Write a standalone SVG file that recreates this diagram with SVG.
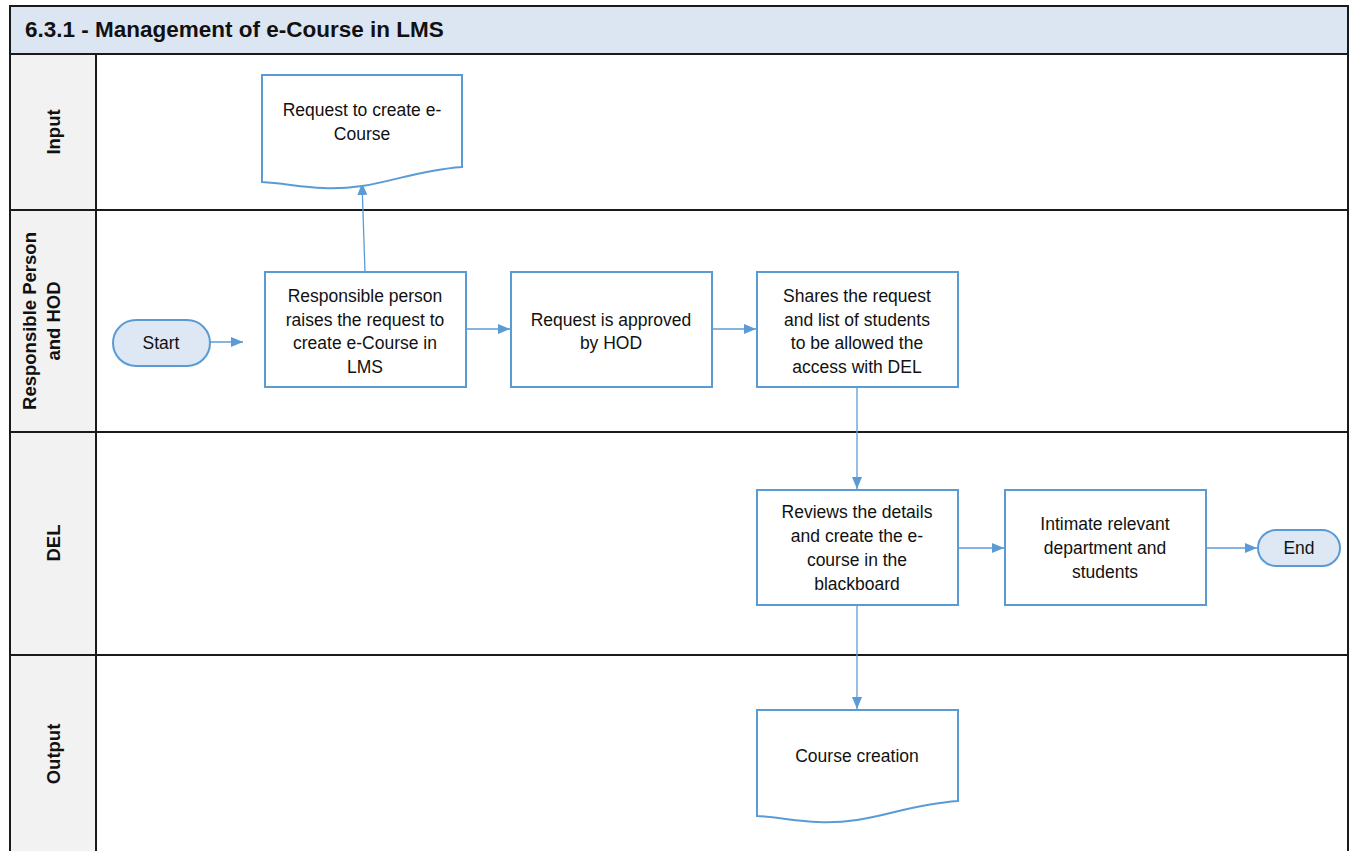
<svg xmlns="http://www.w3.org/2000/svg" width="1351" height="851" viewBox="0 0 1351 851">
  <defs>
    <marker id="arrow" viewBox="0 0 12 10" refX="12" refY="5" markerWidth="12" markerHeight="10" markerUnits="userSpaceOnUse" orient="auto">
      <path d="M0,0 L12,5 L0,10 z" fill="#5b9bd5"/>
    </marker>
    <style>
      .frame { fill: none; stroke: #1a1a1a; stroke-width: 2; }
      .lanehead { fill: #f2f2f2; }
      .title { font-family: "Liberation Sans", Arial, sans-serif; font-size: 22.5px; font-weight: bold; fill: #111; }
      .lane { font-family: "Liberation Sans", Arial, sans-serif; font-size: 18.5px; font-weight: bold; fill: #111; text-anchor: middle; }
      .box { fill: #ffffff; stroke: #5b9bd5; stroke-width: 2; }
      .term { fill: #dde8f4; stroke: #5b9bd5; stroke-width: 2; }
      .t { font-family: "Liberation Sans", Arial, sans-serif; font-size: 17.5px; fill: #111; text-anchor: middle; }
      .conn { fill: none; stroke: #5b9bd5; stroke-width: 1.3; marker-end: url(#arrow); }
    </style>
  </defs>

  <rect width="1351" height="851" fill="#ffffff"/>

  <!-- pool: title band, lane header column and lane separators -->
  <g id="pool">
    <rect x="10" y="6" width="1338" height="48" fill="#dce6f2"/>
    <rect x="10" y="54" width="86" height="797" class="lanehead"/>
    <path class="frame" d="M10,851 V6 H1348 V851"/>
    <path class="frame" d="M10,54 H1348 M10,210 H1348 M10,432 H1348 M10,655 H1348 M96,54 V851"/>
    <text class="title" x="25" y="37">6.3.1 - Management of e-Course in LMS</text>
  </g>

  <g id="lane-labels">
    <text class="lane" transform="translate(60,132) rotate(-90)">Input</text>
    <text class="lane" transform="translate(36,321) rotate(-90)">Responsible Person</text>
    <text class="lane" transform="translate(60,321) rotate(-90)">and HOD</text>
    <text class="lane" transform="translate(60,543) rotate(-90)">DEL</text>
    <text class="lane" transform="translate(60,754) rotate(-90)">Output</text>
  </g>

  <!-- connectors -->
  <g id="connectors">
    <line class="conn" x1="210" y1="342" x2="243" y2="342"/>
    <line class="conn" x1="365" y1="272" x2="362" y2="183"/>
    <line class="conn" x1="466" y1="329" x2="510" y2="329"/>
    <line class="conn" x1="712" y1="329" x2="756" y2="329"/>
    <line class="conn" x1="857" y1="387" x2="857" y2="489"/>
    <line class="conn" x1="958" y1="548" x2="1004" y2="548"/>
    <line class="conn" x1="1206" y1="548" x2="1257" y2="548"/>
    <line class="conn" x1="857" y1="605" x2="857" y2="709"/>
  </g>

  <!-- nodes -->
  <g id="doc-request">
    <path class="box" d="M262,75 H462 V167 C420,170 395,181 362,186 C320,192 295,184 262,182 Z"/>
    <text class="t" x="362" y="116">Request to create e-</text>
    <text class="t" x="362" y="140">Course</text>
  </g>

  <g id="start">
    <rect class="term" x="113" y="320" width="97" height="46" rx="23"/>
    <text class="t" x="161" y="349">Start</text>
  </g>

  <g id="raise-request">
    <rect class="box" x="265" y="272" width="201" height="115"/>
    <text class="t" x="365" y="302">Responsible person</text>
    <text class="t" x="365" y="326">raises the request to</text>
    <text class="t" x="365" y="349">create e-Course in</text>
    <text class="t" x="365" y="373">LMS</text>
  </g>

  <g id="hod-approval">
    <rect class="box" x="511" y="272" width="201" height="115"/>
    <text class="t" x="611" y="326">Request is approved</text>
    <text class="t" x="611" y="349">by HOD</text>
  </g>

  <g id="share-request">
    <rect class="box" x="757" y="272" width="201" height="115"/>
    <text class="t" x="857" y="302">Shares the request</text>
    <text class="t" x="857" y="326">and list of students</text>
    <text class="t" x="857" y="349">to be allowed the</text>
    <text class="t" x="857" y="373">access with DEL</text>
  </g>

  <g id="create-course">
    <rect class="box" x="757" y="490" width="201" height="115"/>
    <text class="t" x="857" y="518">Reviews the details</text>
    <text class="t" x="857" y="542">and create the e-</text>
    <text class="t" x="857" y="566">course in the</text>
    <text class="t" x="857" y="590">blackboard</text>
  </g>

  <g id="intimate">
    <rect class="box" x="1005" y="490" width="201" height="115"/>
    <text class="t" x="1105" y="530">Intimate relevant</text>
    <text class="t" x="1105" y="554">department and</text>
    <text class="t" x="1105" y="578">students</text>
  </g>

  <g id="end">
    <rect class="term" x="1258" y="530" width="82" height="36" rx="18"/>
    <text class="t" x="1299" y="554">End</text>
  </g>

  <g id="doc-output">
    <path class="box" d="M757,710 H958 V801 C915,804 890,815 857,820 C815,826 790,818 757,816 Z"/>
    <text class="t" x="857" y="762">Course creation</text>
  </g>
</svg>
